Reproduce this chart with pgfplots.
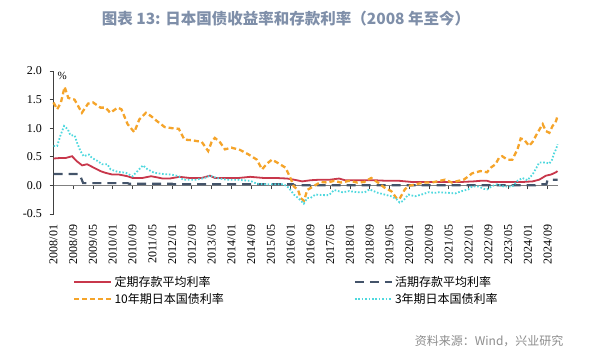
\documentclass[border=0pt]{standalone}
\usepackage{fontspec}
\setmainfont{Liberation Serif}
\newfontfamily\cjk{Noto Sans CJK SC}
\usepackage{pgfplots}
\pgfplotsset{compat=1.18}
\definecolor{cRed}{HTML}{C8374B}
\definecolor{cNavy}{HTML}{44546A}
\definecolor{cOrange}{HTML}{F5A42A}
\definecolor{cCyan}{HTML}{4FD8DE}
\definecolor{cTitle}{HTML}{7F8FA9}
\definecolor{cSrc}{HTML}{8C8C8C}
\definecolor{cZero}{HTML}{808080}
\definecolor{cAxis}{HTML}{404040}
\begin{document}
\begin{tikzpicture}[x=1pt,y=1pt]
\useasboundingbox (0,0) rectangle (596,355);
\node[font=\cjk\bfseries\fontsize{15.5}{18}\selectfont, text=cTitle] at (286,336) {图表 13: 日本国债收益率和存款利率（2008 年至今）};
\node[font=\cjk\fontsize{12}{14}\selectfont, text=cSrc, anchor=east] at (567,14) {资料来源：Wind，兴业研究};
\begin{axis}[
  at={(53.5pt,141pt)}, anchor=south west,
  scale only axis, width=504pt, height=143pt,
  xmin=0, xmax=204, ymin=-0.5, ymax=2.0,
  axis x line=middle, axis y line=left,
  x axis line style={-, draw=cZero, line width=1.6pt},
  y axis line style={-, draw=cAxis, line width=0.8pt},
  hide obscured x ticks=false, hide obscured y ticks=false,
  tick align=center, major tick length=4pt,
  major x tick style={draw=cAxis, line width=0.8pt, yshift=-2pt},
  major y tick style={draw=cAxis, line width=0.8pt, xshift=-2pt},
  xtick={0,8,...,200},
  xticklabels={2008/01,2008/09,2009/05,2010/01,2010/09,2011/05,2012/01,2012/09,2013/05,2014/01,2014/09,2015/05,2016/01,2016/09,2017/05,2018/01,2018/09,2019/05,2020/01,2020/09,2021/05,2022/01,2022/09,2023/05,2024/01,2024/09},
  x tick label style={font=\fontsize{12}{14}\selectfont, yshift=-34pt, rotate=90, anchor=east},
  ytick={-0.5,0,0.5,1,1.5,2},
  y tick label style={font=\fontsize{12}{14}\selectfont, xshift=-6pt,
    /pgf/number format/.cd, fixed, fixed zerofill, precision=1, assume math mode=true},
  clip=false,
  legend columns=2,
  legend cell align=left,
  legend image code/.code={\draw[#1] (0pt,0pt) -- (37pt,0pt);},
  legend style={draw=none, fill=none, inner sep=0pt, at={(0.0387,-0.42)}, anchor=north west,
    font=\cjk\fontsize{12}{14}\selectfont, row sep=1pt,
    /tikz/every even column/.append style={column sep=128pt}},
]
\addplot[cRed, line width=1.8pt] coordinates {
(0,0.47) (3,0.48) (5,0.48) (7.5,0.51) (9.5,0.42) (11.6,0.35) (13.6,0.37) (16.3,0.31) (19,0.25) (21,0.22) (23.8,0.19) (26.5,0.19) (29.9,0.16) (32,0.13) (36,0.13) (39.5,0.16) (42,0.14) (44.2,0.12) (47,0.12) (51,0.15) (55,0.13) (60,0.13) (63.3,0.17) (65.3,0.13) (70,0.13) (75,0.13) (79.6,0.15) (85,0.13) (90,0.13) (94.6,0.12) (97.3,0.10) (100.7,0.07) (104,0.09) (108,0.10) (112,0.10) (115.6,0.12) (118,0.09) (125,0.09) (130,0.09) (135,0.08) (140,0.08) (145,0.06) (150,0.06) (155,0.06) (160,0.06) (165,0.06) (170,0.07) (172.8,0.08) (175.5,0.08) (177,0.06) (185,0.06) (190,0.06) (193.9,0.07) (196.6,0.10) (199.3,0.17) (201.4,0.19) (203.4,0.23) (204,0.25)
};
\addlegendentry{定期存款平均利率}
\addplot[cNavy, line width=2.2pt, dash pattern=on 9pt off 6pt] coordinates {
(0,0.2) (10.5,0.2) (12,0.04) (30,0.04) (30.5,0.03) (48,0.03) (48.5,0.02) (97,0.02) (97.5,0.001) (195,0.001) (195.5,0.02) (199.5,0.02) (200,0.1) (204,0.1)
};
\addlegendentry{活期存款平均利率}
\addplot[cOrange, line width=2.3pt, dash pattern=on 5pt off 3pt] coordinates {
(0,1.45) (1.5,1.33) (3,1.45) (4.5,1.72) (6,1.53) (8.5,1.50) (11.5,1.27) (14,1.43) (16,1.45) (19,1.36) (21,1.36) (23,1.27) (26,1.36) (27.5,1.33) (30,1.07) (32.7,0.93) (34.7,1.15) (37.4,1.27) (39.5,1.21) (42,1.12) (45,1.02) (48,1.00) (50.7,0.99) (53,0.80) (56,0.79) (60,0.76) (62.6,0.60) (64,0.76) (65.3,0.83) (67.3,0.76) (69.4,0.63) (72,0.66) (75.5,0.62) (79,0.54) (82.3,0.45) (84.4,0.28) (86.4,0.38) (88.4,0.45) (90.5,0.40) (93.9,0.31) (95.9,0.13) (97.3,-0.02) (99,-0.08) (100,-0.22) (101.4,-0.27) (102.7,-0.08) (105.4,-0.01) (108.2,0.06) (110.9,0.05) (113.6,0.08) (116.3,0.05) (119.7,0.08) (123,0.05) (125.8,0.06) (128.6,0.13) (131.3,0.05) (134,-0.04) (136.7,-0.10) (138.8,-0.22) (140,-0.24) (142.2,-0.07) (143.6,-0.01) (146.9,0.02) (149.7,0.05) (153,0.05) (156.4,0.08) (158.5,0.10) (161.2,0.05) (164,0.08) (166,0.10) (168,0.16) (169.4,0.21) (172.8,0.25) (175.5,0.23) (177,0.31) (178.9,0.37) (180.3,0.48) (181.6,0.51) (183.7,0.45) (185.7,0.45) (187.8,0.63) (189.1,0.82) (190.5,0.80) (192.5,0.69) (193.9,0.76) (195.9,0.92) (198,1.07) (199.3,0.95) (200.7,0.92) (202,1.04) (203.2,1.10) (204,1.21)
};
\addlegendentry{10年期日本国债利率}
\addplot[cCyan, line width=1.8pt, dash pattern=on 1.6pt off 1.8pt] coordinates {
(0,0.69) (1.5,0.69) (2.7,0.86) (4.3,1.04) (5.8,0.98) (6.8,0.88) (8.6,0.87) (9.5,0.75) (10.9,0.60) (12.2,0.51) (14.3,0.54) (15.6,0.48) (17.7,0.43) (19.7,0.37) (21.8,0.37) (23.1,0.28) (25.8,0.24) (29.3,0.22) (32,0.16) (34,0.25) (36.2,0.35) (38.1,0.28) (40.8,0.22) (44.2,0.20) (47.6,0.19) (50.7,0.16) (52.4,0.10) (57.8,0.10) (61.2,0.13) (63.3,0.17) (66,0.13) (70,0.10) (74.2,0.10) (79.6,0.08) (82.3,0.03) (85,0.02) (89,0.02) (93.2,0.02) (95.2,-0.04) (97.3,-0.16) (99.3,-0.23) (101.3,-0.32) (102.7,-0.22) (104,-0.22) (106,-0.16) (109.5,-0.17) (111.5,-0.17) (113.6,-0.08) (117,-0.12) (119.7,-0.10) (123,-0.12) (126,-0.12) (127.9,-0.07) (131.3,-0.13) (134,-0.16) (136.7,-0.19) (138.8,-0.24) (140.1,-0.30) (141.5,-0.27) (143.6,-0.16) (146.3,-0.19) (149,-0.16) (151.7,-0.12) (154.4,-0.13) (156,-0.12) (159.9,-0.13) (162.6,-0.14) (165.3,-0.10) (167.8,-0.07) (169.4,-0.02) (172.1,-0.02) (174.2,-0.06) (175.5,-0.07) (177.6,-0.01) (179.6,0.02) (182.3,-0.02) (185.7,-0.02) (187.8,0.08) (189.8,0.13) (191.8,0.09) (193.9,0.19) (195.5,0.31) (196.6,0.40) (199.3,0.40) (200.7,0.38) (201.8,0.45) (202.7,0.57) (203.5,0.64) (204,0.72)
};
\addlegendentry{3年期日本国债利率}
\node[anchor=north west, font=\fontsize{11}{13}\selectfont, inner sep=0pt] at (axis description cs:0.008,0.995) {\%};
\end{axis}
\end{tikzpicture}
\end{document}
